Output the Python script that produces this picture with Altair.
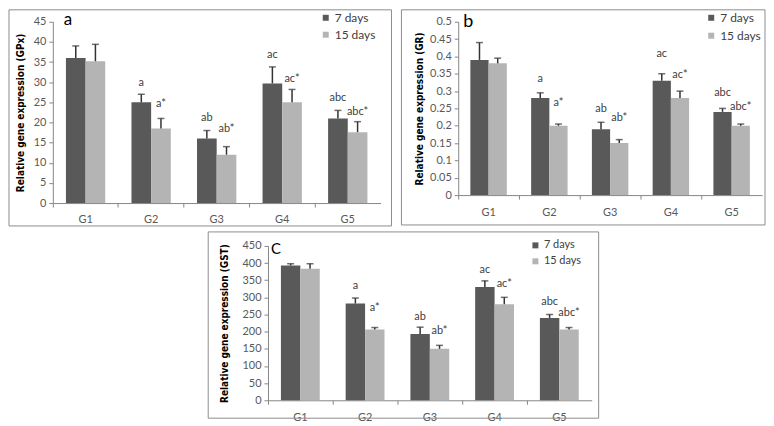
import altair as alt
import pandas as pd

groups = ["G1", "G2", "G3", "G4", "G5"]
periods = ["7 days", "15 days"]
labels_7 = ["", "a", "ab", "ac", "abc"]
labels_15 = ["", "a*", "ab*", "ac*", "abc*"]

# Panel a: GPx
gpx_7 = [36.0, 25.0, 16.0, 29.7, 21.0]
gpx_15 = [35.2, 18.5, 12.0, 25.0, 17.6]
gpx_7_err = [3.0, 2.0, 2.0, 4.1, 2.0]
gpx_15_err = [4.2, 2.5, 2.0, 3.2, 2.6]
gpx_lab_7_y = [0, 29.9, 21.0, 36.8, 26.0]
gpx_lab_15_y = [0, 24.7, 18.3, 30.9, 22.7]
gpx_ticks = [0, 5, 10, 15, 20, 25, 30, 35, 40, 45]

# Panel b: GR
gr_7 = [0.39, 0.28, 0.19, 0.33, 0.24]
gr_15 = [0.38, 0.20, 0.15, 0.28, 0.20]
gr_7_err = [0.05, 0.015, 0.02, 0.02, 0.01]
gr_15_err = [0.015, 0.005, 0.01, 0.02, 0.005]
gr_lab_7_y = [0, 0.336, 0.247, 0.407, 0.294]
gr_lab_15_y = [0, 0.267, 0.221, 0.347, 0.253]
gr_ticks = [0, 0.05, 0.1, 0.15, 0.2, 0.25, 0.3, 0.35, 0.4, 0.45, 0.5]

# Panel c: GST
gst_7 = [393, 282, 193, 330, 240]
gst_15 = [383, 206, 150, 280, 206]
gst_7_err = [5, 16, 20, 18, 10]
gst_15_err = [15, 6, 10, 20, 6]
gst_lab_7_y = [0, 332, 244, 379, 287]
gst_lab_15_y = [0, 270, 202, 340, 254]
gst_ticks = [0, 50, 100, 150, 200, 250, 300, 350, 400, 450]

DARK = "#595959"
LIGHT = "#b4b4b4"
AXIS = "#868686"
TXT = "#595959"
FONT = "Lato"
NARROW = "Liberation Sans Narrow, DejaVu Sans Condensed, Lato"


def make_df(v7, v15, e7, e15, l7, l15):
    rows = []
    for i, g in enumerate(groups):
        rows.append({"group": g, "period": periods[0], "value": v7[i],
                     "top": v7[i] + e7[i], "lab": labels_7[i], "laby": l7[i]})
        rows.append({"group": g, "period": periods[1], "value": v15[i],
                     "top": v15[i] + e15[i], "lab": labels_15[i], "laby": l15[i]})
    return pd.DataFrame(rows)


one = pd.DataFrame({"k": [0]})


def panel(df, ydom, yvals, ytitle, W, H, box, leg, leg_pad, leg_size,
          letter, letter_xy, letter_size, title_pad):
    x = alt.X("group:N", sort=groups, title=None,
              scale=alt.Scale(paddingInner=0, paddingOuter=0),
              axis=alt.Axis(bandPosition=0, labelAngle=0,
                            ticks=True, tickSize=4, tickColor=AXIS,
                            domainColor=AXIS, labelColor=TXT, labelFont=FONT,
                            labelFontSize=11, labelPadding=7, grid=False))
    xo = alt.XOffset("period:N", sort=periods,
                     scale=alt.Scale(domain=periods, paddingInner=0, paddingOuter=0.667))
    yscale = alt.Scale(domain=ydom, nice=False, zero=True)
    yaxis = alt.Axis(values=yvals, labelExpr="format(datum.value, '~g')",
                     title=ytitle, grid=False, labelOverlap=False,
                     domainColor=AXIS, tickColor=AXIS, tickSize=4,
                     labelColor=TXT, labelFont=FONT, labelFontSize=11,
                     labelPadding=3, titleFont=NARROW, titleFontSize=10,
                     titleFontWeight="bold", titleColor="#000000",
                     titlePadding=title_pad)

    def Y(field):
        return alt.Y(field, scale=yscale, axis=yaxis, title=ytitle)

    base = alt.Chart(df)
    frame = alt.Chart(one).mark_rect(fill="white", fillOpacity=0, stroke="#8c8c8c",
                                     strokeWidth=1).encode(
        x=alt.value(box[0]), x2=alt.value(box[1]), y=alt.value(box[2]), y2=alt.value(box[3]))
    bars = base.mark_bar().encode(
        x=x, xOffset=xo, y=Y("value:Q"),
        color=alt.Color("period:N", sort=periods,
                        scale=alt.Scale(domain=periods, range=[DARK, LIGHT]),
                        legend=alt.Legend(title=None, orient="none", legendX=leg[0],
                                          legendY=leg[1], symbolType="square",
                                          symbolSize=36, symbolStrokeWidth=0,
                                          labelFont=FONT, labelFontSize=leg_size,
                                          labelColor="#404040", rowPadding=leg_pad,
                                          padding=0, labelOffset=3)))
    rules = base.mark_rule(color="#333333", strokeWidth=1.5).encode(
        x=x, xOffset=xo, y=Y("value:Q"), y2="top:Q")
    caps = base.mark_tick(color="#333333", orient="horizontal", size=7, thickness=1.5).encode(
        x=x, xOffset=xo, y=Y("top:Q"))
    texts = base.transform_filter("datum.lab != ''").mark_text(
        font=FONT, fontSize=11, color="#404040", baseline="middle", align="center").encode(
        x=x, xOffset=xo, y=Y("laby:Q"), text="lab:N")
    let = alt.Chart(one).mark_text(font=FONT, fontSize=letter_size, color="#000000",
                                   align="left", baseline="top").encode(
        x=alt.value(letter_xy[0]), y=alt.value(letter_xy[1]), text=alt.value(letter))
    return alt.layer(frame, bars, rules, caps, texts, let).properties(width=W, height=H)


pa = panel(make_df(gpx_7, gpx_15, gpx_7_err, gpx_15_err, gpx_lab_7_y, gpx_lab_15_y),
           [0, 45], gpx_ticks, "Relative gene expression (GPx)", 329, 182,
           (-44, 340, -12, 205), (268, -10), 5, 12, "a", (11, -10), 17, 8)
pb = panel(make_df(gr_7, gr_15, gr_7_err, gr_15_err, gr_lab_7_y, gr_lab_15_y),
           [0, 0.5], gr_ticks, "Relative gene expression (GR)", 305, 174,
           (-57, 308, -12, 204), (248, -10), 6, 12, "b", (5, -9), 18, 5)
pc = panel(make_df(gst_7, gst_15, gst_7_err, gst_15_err, gst_lab_7_y, gst_lab_15_y),
           [0, 450], gst_ticks, "Relative gene expression (GST)", 325, 155,
           (-60, 332, -14, 173), (263, -6), 4, 11, "C", (3, -4), 15, 12)

blank = alt.Chart(one).mark_rect(opacity=0).encode(
    x=alt.value(0), x2=alt.value(151), y=alt.value(0), y2=alt.value(1)
).properties(width=151, height=1)

res = dict(x="independent", y="independent", xOffset="independent", color="independent")
top = alt.hconcat(pa, pb, spacing=8).resolve_scale(**res).resolve_legend(color="independent")
bottom = alt.hconcat(blank, pc, spacing=4).resolve_scale(**res).resolve_legend(color="independent")
chart = alt.vconcat(top, bottom, spacing=4).resolve_scale(**res).resolve_legend(
    color="independent").properties(padding=0, background="white").configure_view(strokeWidth=0)

chart.save("out.html", embed_options={"renderer": "svg", "actions": False})
